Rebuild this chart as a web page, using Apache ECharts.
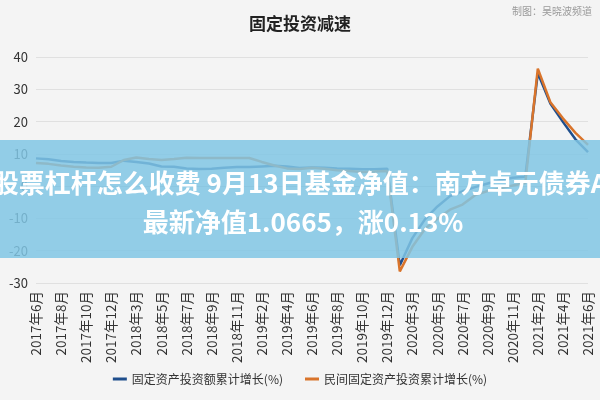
<!DOCTYPE html>
<html><head><meta charset="utf-8">
<script src="https://cdn.jsdelivr.net/npm/echarts@6/dist/echarts.min.js"></script>
<style>html,body{margin:0;background:#f4f4f4}#c{width:600px;height:400px}</style>
</head><body><div id="c"></div>
<script>
// 月份（1月与2月合并公布，无1月数据）
const months = ['2017年6月','2017年7月','2017年8月','2017年9月','2017年10月','2017年11月','2017年12月',
  '2018年2月','2018年3月','2018年4月','2018年5月','2018年6月','2018年7月','2018年8月','2018年9月','2018年10月','2018年11月','2018年12月',
  '2019年2月','2019年3月','2019年4月','2019年5月','2019年6月','2019年7月','2019年8月','2019年9月','2019年10月','2019年11月','2019年12月',
  '2020年2月','2020年3月','2020年4月','2020年5月','2020年6月','2020年7月','2020年8月','2020年9月','2020年10月','2020年11月','2020年12月',
  '2021年2月','2021年3月','2021年4月','2021年5月','2021年6月'];
const totalGrowth = [8.6,8.3,7.8,7.5,7.3,7.2,7.2, 7.9,7.5,7.0,6.1,6.0,5.5,5.3,5.4,5.7,5.9,5.9,
  6.1,6.3,6.1,5.6,5.8,5.7,5.5,5.4,5.2,5.2,5.4,
  -24.5,-16.1,-10.3,-6.3,-3.1,-1.6,-0.3,0.8,1.8,2.6,2.9, 35.0,25.6,19.9,14.5,10.5];
const privateGrowth = [7.2,6.9,6.4,6.0,5.8,5.7,6.0, 8.1,8.9,8.4,8.1,8.4,8.8,8.7,8.7,8.7,8.7,8.7,
  7.5,6.4,5.5,5.3,5.7,5.4,4.9,4.7,4.4,4.5,4.7,
  -26.4,-18.8,-13.3,-10.1,-7.3,-5.7,-2.8,-1.5,-0.7,0.2,1.0, 36.4,26.0,21.0,16.5,12.8];
const seriesNames = ['固定资产投资额累计增长(%)','民间固定资产投资累计增长(%)'];
const bannerLines = ['股票杠杆怎么收费 9月13日基金净值：南方卓元债券A', '最新净值1.0665，涨0.13%'];

const chart = echarts.init(document.getElementById('c'));
chart.setOption({
  backgroundColor: '#f4f4f4',
  animation: false,
  textStyle: {fontFamily: 'Noto Sans CJK SC'},
  title: {text: '固定投资减速', left: 'center', top: 10,
    textStyle: {fontSize: 17, fontWeight: 'bold', color: '#222'}},
  grid: {left: 36, right: 12, top: 57, bottom: 117},
  legend: {bottom: 10, itemWidth: 14, itemHeight: 3, icon: 'rect', itemGap: 22,
    textStyle: {fontSize: 12, color: '#333'}, data: seriesNames},
  xAxis: {type: 'category', data: months, boundaryGap: false,
    axisLine: {lineStyle: {color: '#ccc'}}, axisTick: {show: false},
    axisLabel: {rotate: 90, interval: 1, fontSize: 13.5, color: '#333', margin: 8}},
  yAxis: {type: 'value', min: -30, max: 40, interval: 10,
    axisLine: {show: false}, axisTick: {show: false},
    axisLabel: {fontSize: 13, color: '#333'},
    splitLine: {lineStyle: {color: '#e0e0e0'}}},
  series: [
    {name: seriesNames[0], type: 'line', data: totalGrowth, symbol: 'none',
      color: '#1f4e8c', lineStyle: {width: 2.5}},
    {name: seriesNames[1], type: 'line', data: privateGrowth, symbol: 'none',
      color: '#d9742b', lineStyle: {width: 2.5}}
  ],
  graphic: [
    {type: 'rect', left: 0, top: 140, z: 100, shape: {width: 600, height: 118},
      style: {fill: 'rgba(128,198,228,0.85)'}},
    {type: 'text', x: 300, y: 183, z: 101,
      style: {text: bannerLines[0], fill: '#fff', align: 'center', verticalAlign: 'middle',
        font: 'bold 26px "Noto Sans CJK SC"'}},
    {type: 'text', x: 303, y: 222, z: 101,
      style: {text: bannerLines[1], fill: '#fff', align: 'center', verticalAlign: 'middle',
        font: 'bold 26px "Noto Sans CJK SC"'}},
    {type: 'text', right: 8, top: 6,
      style: {text: '制图：吴晓波频道', fill: '#999', font: '10px "Noto Sans CJK SC"'}}
  ]
});
</script></body></html>
